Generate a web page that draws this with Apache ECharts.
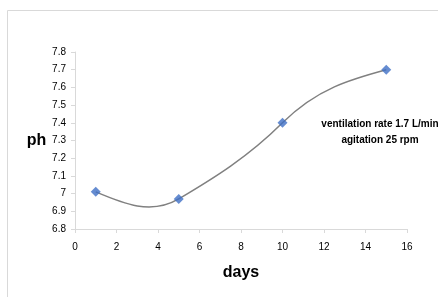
<!DOCTYPE html>
<html>
<head>
<meta charset="utf-8">
<script src="https://cdn.jsdelivr.net/npm/echarts@6/dist/echarts.min.js"></script>
<style>
  html, body { margin: 0; padding: 0; background: #fff; }
  #chart { width: 438px; height: 297px; }
</style>
</head>
<body>
<div id="chart"></div>
<script>
const days = [1, 5, 10, 15];
const ph = [7.01, 6.97, 7.4, 7.7];
const noteLines = ['ventilation rate 1.7 L/min', 'agitation 25 rpm'];

const chart = echarts.init(document.getElementById('chart'));
const font = '"Liberation Sans", Arial, sans-serif';
const points = days.map((d, i) => [d, ph[i]]);

// spreadsheet-style smoothed line: cardinal spline (a bit looser than catmull-rom),
// parabolic end conditions, drawn as beziers in pixel space
function smoothPath(px, tension) {
  const n = px.length;
  const chord = [];
  for (let i = 0; i < n - 1; i++) {
    chord.push((px[i + 1][1] - px[i][1]) / (px[i + 1][0] - px[i][0]));
  }
  const m = new Array(n);
  for (let i = 1; i < n - 1; i++) {
    m[i] = tension * (px[i + 1][1] - px[i - 1][1]) / (px[i + 1][0] - px[i - 1][0]);
  }
  m[0] = (3 * chord[0] - m[1]) / 2;
  m[n - 1] = (3 * chord[n - 2] - m[n - 2]) / 2;
  let d = 'M' + px[0][0] + ' ' + px[0][1];
  for (let i = 0; i < n - 1; i++) {
    const a = px[i], b = px[i + 1];
    const h = (b[0] - a[0]) / 3;
    d += ' C' + (a[0] + h) + ' ' + (a[1] + m[i] * h) + ' ' +
      (b[0] - h) + ' ' + (b[1] - m[i + 1] * h) + ' ' + b[0] + ' ' + b[1];
  }
  return d;
}

chart.setOption({
  animation: false,
  grid: { left: 75, right: 31, top: 52, bottom: 68 },
  graphic: [
    { type: 'line', shape: { x1: 7.5, y1: 10.5, x2: 438, y2: 10.5 }, style: { stroke: '#d9d9d9', lineWidth: 1 } },
    { type: 'line', shape: { x1: 7.5, y1: 10.5, x2: 7.5, y2: 297 }, style: { stroke: '#d9d9d9', lineWidth: 1 } },
    {
      type: 'text', x: 380, y: 116,
      style: { text: noteLines.join('\n'), font: 'bold 10px ' + font, fill: '#000', align: 'center', lineHeight: 16 }
    }
  ],
  xAxis: {
    type: 'value', min: 0, max: 16, interval: 2,
    name: 'days', nameLocation: 'middle', nameGap: 36,
    nameTextStyle: { fontFamily: font, fontWeight: 'bold', fontSize: 16, color: '#000' },
    axisLine: { lineStyle: { color: '#d9d9d9' } },
    axisTick: { show: true, length: 4, lineStyle: { color: '#d9d9d9' } },
    axisLabel: { fontFamily: font, fontSize: 10, color: '#000', margin: 13 },
    splitLine: { show: false }
  },
  yAxis: {
    type: 'value', min: 6.8, max: 7.8, interval: 0.1,
    name: 'ph', nameLocation: 'middle', nameGap: 26, nameRotate: 0,
    nameTextStyle: { fontFamily: font, fontWeight: 'bold', fontSize: 16, color: '#000' },
    axisLine: { show: true, lineStyle: { color: '#d9d9d9' } },
    axisTick: { show: true, length: 4, lineStyle: { color: '#d9d9d9' } },
    axisLabel: {
      fontFamily: font, fontSize: 10, color: '#000', margin: 9,
      formatter: v => (Math.round(v * 10) / 10).toString()
    },
    splitLine: { show: false }
  },
  series: [
    {
      type: 'custom',
      data: points,
      silent: true,
      z: 2,
      renderItem: (params, api) => {
        if (params.dataIndex !== 0) return null;
        const px = points.map(p => api.coord(p));
        return {
          type: 'path',
          shape: { pathData: smoothPath(px, 1.6) },
          style: { stroke: '#808080', lineWidth: 1.5, fill: null }
        };
      }
    },
    {
      type: 'scatter',
      data: points,
      symbol: 'diamond',
      symbolSize: 10,
      z: 3,
      itemStyle: { color: '#3f6fc6' }
    }
  ]
});
</script>
</body>
</html>
